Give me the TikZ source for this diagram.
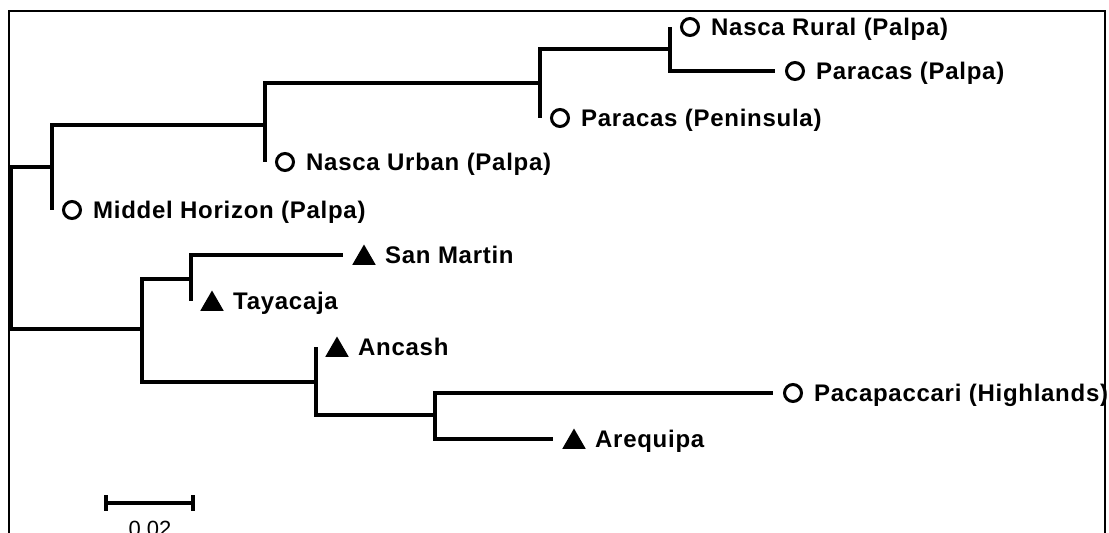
\documentclass[tikz,border=0pt]{standalone}
\usepackage{fontspec}
\setmainfont{Liberation Sans}
\newfontfamily\lblfont[LetterSpace=3]{Liberation Sans}
\usetikzlibrary{shapes.geometric,calc}
\begin{document}
\begin{tikzpicture}[x=1pt,y=-1pt,
  br/.style={line width=3.5pt, line join=miter},
  circ/.style={circle, draw=black, line width=3pt, fill=white, minimum size=17pt, inner sep=0pt},
  tri/.style={regular polygon, regular polygon sides=3, fill=black, minimum size=27pt, inner sep=0pt},
  lbl/.style={font=\lblfont\bfseries\fontsize{24}{26}\selectfont, anchor=west, inner sep=0pt, text height=17pt, text depth=0pt},
  sc/.style={font=\fontsize{22}{24}\selectfont, anchor=base, inner sep=0pt}]
\useasboundingbox (0,0) rectangle (1109,533);
\clip (0,0) rectangle (1109,533);
% internal nodes
\coordinate (root) at (11,248);
\coordinate (n1) at (52,167);
\coordinate (n2) at (265,125);
\coordinate (n3) at (540,83);
\coordinate (n4) at (670,49);
\coordinate (n5) at (142,329);
\coordinate (n6) at (191,279);
\coordinate (n7) at (316,382);
\coordinate (n8) at (435,415);
% tips
\coordinate (tMH) at (52,210);
\coordinate (tNU) at (265,162);
\coordinate (tPP) at (540,118);
\coordinate (tNR) at (670,27);
\coordinate (tPA) at (775,71);
\coordinate (tSM) at (343,255);
\coordinate (tTA) at (191,301);
\coordinate (tAN) at (316,347);
\coordinate (tPC) at (773,393);
\coordinate (tAR) at (553,439);
% branches
\draw[br] (root) |- (n1);
\draw[br] (root) |- (n5);
\draw[br] (n1) |- (tMH);
\draw[br] (n1) |- (n2);
\draw[br] (n2) |- (tNU);
\draw[br] (n2) |- (n3);
\draw[br] (n3) |- (tPP);
\draw[br] (n3) |- (n4);
\draw[br] (n4) |- (tNR);
\draw[br] (n4) |- (tPA);
\draw[br] (n5) |- (n6);
\draw[br] (n5) |- (n7);
\draw[br] (n6) |- (tSM);
\draw[br] (n6) |- (tTA);
\draw[br] (n7) |- (tAN);
\draw[br] (n7) |- (n8);
\draw[br] (n8) |- (tPC);
\draw[br] (n8) |- (tAR);
% markers and labels
\foreach \t/\txt in {MH/Middel Horizon (Palpa), NU/Nasca Urban (Palpa), PP/Paracas (Peninsula), NR/Nasca Rural (Palpa), PA/Paracas (Palpa), PC/Pacapaccari (Highlands)}{
  \node[circ] (m\t) at ($(t\t)+(20,0)$) {};
  \node[lbl] (l\t) at ($(m\t.center)+(21,0)$) {\txt};
}
\foreach \t/\txt in {SM/San Martin, TA/Tayacaja, AN/Ancash, AR/Arequipa}{
  \node[tri] (m\t) at ($(t\t)+(21,3)$) {};
  \node[lbl] (l\t) at ($(t\t)+(42,0)$) {\txt};
}
% scale bar
\coordinate (sbL) at (106,503);
\coordinate (sbR) at (193,503);
\draw[br] (sbL) -- (sbR);
\draw[br] ($(sbL)+(0,-8)$) -- ($(sbL)+(0,8)$);
\draw[br] ($(sbR)+(0,-8)$) -- ($(sbR)+(0,8)$);
\node[sc] (sclbl) at (150,536) {0.02};
% frame
\draw[line width=2pt] (8.5,545) -- (8.5,10.5) -- (1104.5,10.5) -- (1104.5,545);
\end{tikzpicture}
\end{document}
